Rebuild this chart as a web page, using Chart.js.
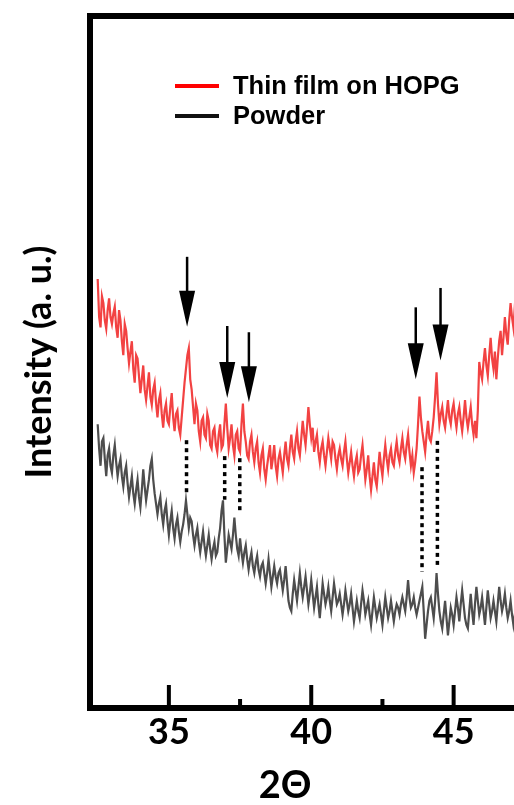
<!DOCTYPE html>
<html>
<head>
<meta charset="utf-8">
<script src="https://cdn.jsdelivr.net/npm/chart.js@4.4.0/dist/chart.umd.min.js"></script>
<style>
  html, body { margin: 0; padding: 0; background: #fff; overflow: hidden; }
</style>
</head>
<body>
<canvas id="xrd" width="616" height="805"></canvas>
<script>
// 2-theta positions (deg)
const twoTheta = [
  32.50, 32.55, 32.60, 32.65, 32.70, 32.75, 32.80, 32.85, 32.90, 32.95,
  33.00, 33.05, 33.10, 33.15, 33.20, 33.25, 33.30, 33.35, 33.40, 33.45,
  33.50, 33.55, 33.60, 33.65, 33.70, 33.75, 33.80, 33.85, 33.90, 33.95,
  34.00, 34.05, 34.10, 34.15, 34.20, 34.25, 34.30, 34.35, 34.40, 34.45,
  34.50, 34.55, 34.60, 34.65, 34.70, 34.75, 34.80, 34.85, 34.90, 34.95,
  35.00, 35.05, 35.10, 35.15, 35.20, 35.25, 35.30, 35.35, 35.40, 35.45,
  35.50, 35.55, 35.60, 35.65, 35.70, 35.75, 35.80, 35.85, 35.90, 35.95,
  36.00, 36.05, 36.10, 36.15, 36.20, 36.25, 36.30, 36.35, 36.40, 36.45,
  36.50, 36.55, 36.60, 36.65, 36.70, 36.75, 36.80, 36.85, 36.90, 36.95,
  37.00, 37.05, 37.10, 37.15, 37.20, 37.25, 37.30, 37.35, 37.40, 37.45,
  37.50, 37.55, 37.60, 37.65, 37.70, 37.75, 37.80, 37.85, 37.90, 37.95,
  38.00, 38.05, 38.10, 38.15, 38.20, 38.25, 38.30, 38.35, 38.40, 38.45,
  38.50, 38.55, 38.60, 38.65, 38.70, 38.75, 38.80, 38.85, 38.90, 38.95,
  39.00, 39.05, 39.10, 39.15, 39.20, 39.25, 39.30, 39.35, 39.40, 39.45,
  39.50, 39.55, 39.60, 39.65, 39.70, 39.75, 39.80, 39.85, 39.90, 39.95,
  40.00, 40.05, 40.10, 40.15, 40.20, 40.25, 40.30, 40.35, 40.40, 40.45,
  40.50, 40.55, 40.60, 40.65, 40.70, 40.75, 40.80, 40.85, 40.90, 40.95,
  41.00, 41.05, 41.10, 41.15, 41.20, 41.25, 41.30, 41.35, 41.40, 41.45,
  41.50, 41.55, 41.60, 41.65, 41.70, 41.75, 41.80, 41.85, 41.90, 41.95,
  42.00, 42.05, 42.10, 42.15, 42.20, 42.25, 42.30, 42.35, 42.40, 42.45,
  42.50, 42.55, 42.60, 42.65, 42.70, 42.75, 42.80, 42.85, 42.90, 42.95,
  43.00, 43.05, 43.10, 43.15, 43.20, 43.25, 43.30, 43.35, 43.40, 43.45,
  43.50, 43.55, 43.60, 43.65, 43.70, 43.75, 43.80, 43.85, 43.90, 43.95,
  44.00, 44.05, 44.10, 44.15, 44.20, 44.25, 44.30, 44.35, 44.40, 44.45,
  44.50, 44.55, 44.60, 44.65, 44.70, 44.75, 44.80, 44.85, 44.90, 44.95,
  45.00, 45.05, 45.10, 45.15, 45.20, 45.25, 45.30, 45.35, 45.40, 45.45,
  45.50, 45.55, 45.60, 45.65, 45.70, 45.75, 45.80, 45.85, 45.90, 45.95,
  46.00, 46.05, 46.10, 46.15, 46.20, 46.25, 46.30, 46.35, 46.40, 46.45,
  46.50, 46.55, 46.60, 46.65, 46.70, 46.75, 46.80, 46.85, 46.90, 46.95,
  47.00, 47.05, 47.10, 47.15, 47.20, 47.25, 47.30, 47.35, 47.40, 47.45
];

// intensity, arbitrary units (offset traces)
const thinFilm = [
  62.0, 56.5, 55.0, 59.5, 58.5, 56.0, 54.8, 57.5, 59.2, 56.5,
  55.5, 57.0, 58.0, 55.0, 53.5, 57.5, 56.0, 53.0, 51.0, 55.5,
  54.5, 52.0, 49.8, 51.5, 53.0, 49.0, 47.0, 51.0, 50.5, 48.0,
  45.5, 47.5, 49.5, 46.0, 44.5, 46.5, 48.5, 45.0, 43.8, 46.0,
  47.0, 44.0, 42.0, 44.5, 45.5, 42.5, 40.5, 43.0, 44.0, 41.5,
  41.0, 43.5, 45.5, 42.0, 40.0, 42.5, 43.0, 40.5, 39.5, 42.0,
  44.5, 47.0, 49.0, 51.0, 52.0, 47.5, 46.0, 43.5, 41.0, 44.0,
  43.0, 40.0, 38.5, 41.5, 42.0, 39.5, 39.0, 42.5, 41.5, 38.0,
  37.5, 40.0, 40.5, 38.0, 37.0, 39.5, 41.0, 37.5, 38.0, 41.0,
  44.0, 40.5, 37.5, 39.0, 41.0, 38.0, 36.5, 39.5, 40.0, 37.5,
  37.0, 41.0, 44.0, 40.0, 38.5, 36.5, 36.0, 38.5, 39.5, 37.0,
  35.5, 37.5, 38.5, 35.5, 34.0, 36.5, 37.5, 34.5, 33.0, 35.0,
  36.5, 38.0, 34.5, 36.0, 38.0, 35.0, 33.5, 36.0, 37.0, 35.5,
  34.0, 36.5, 38.5, 36.0, 35.0, 37.5, 39.5, 37.0, 36.0, 38.5,
  40.0, 37.5, 36.5, 39.0, 41.5, 39.5, 38.0, 40.5, 43.5, 41.0,
  39.0, 40.5, 37.0, 38.5, 39.5, 37.0, 35.5, 37.5, 38.5, 36.5,
  35.0, 37.0, 39.0, 37.5, 36.0, 38.5, 38.0, 36.0, 34.5, 36.5,
  37.5, 36.0, 35.0, 37.0, 38.5, 36.0, 34.0, 35.5, 37.0, 35.0,
  33.5, 35.5, 36.5, 34.0, 34.5, 36.5, 38.0, 35.5, 33.0, 34.5,
  36.5, 33.5, 31.5, 33.5, 35.5, 33.0, 32.0, 34.5, 37.0, 35.0,
  33.5, 36.0, 38.0, 36.0, 34.5, 36.5, 37.5, 35.5, 35.0, 37.0,
  38.5, 36.5, 35.5, 37.5, 39.0, 37.0, 36.0, 38.0, 39.5, 37.0,
  35.0, 36.5, 34.0, 35.5, 37.5, 41.0, 45.0, 42.0, 40.0, 38.5,
  37.0, 39.5, 41.5, 39.0, 38.5, 40.0, 42.0, 45.0, 48.5, 44.0,
  41.0, 42.5, 43.5, 41.5, 40.5, 42.5, 44.5, 42.0, 41.0, 43.0,
  44.0, 42.0, 40.5, 42.5, 43.5, 41.5, 40.0, 42.0, 44.5, 42.0,
  40.5, 42.0, 43.5, 41.0, 39.5, 41.5, 39.0, 43.0, 50.0, 48.5,
  47.5, 50.0, 52.0, 49.5, 48.0, 51.0, 53.5, 50.5, 49.0, 51.5,
  47.5, 50.5, 53.0, 54.5, 51.0, 53.5, 56.5, 54.0, 52.5, 56.0,
  58.5, 56.5, 55.0, 58.0, 61.0, 59.0, 57.0, 60.0, 62.0, 60.5
];

const powder = [
  41.0, 37.5, 35.0, 38.5, 39.0, 36.0, 33.5, 36.5, 37.5, 35.0,
  34.0, 36.5, 38.0, 35.5, 33.5, 35.0, 36.0, 33.5, 32.0, 34.0,
  35.0, 32.5, 30.5, 32.0, 33.5, 31.0, 29.5, 31.5, 33.0, 30.5,
  29.0, 31.5, 34.5, 32.0, 30.0, 31.5, 33.0, 35.0, 36.0, 33.0,
  31.0, 29.5, 28.0, 29.5, 30.5, 28.0, 26.5, 28.5, 29.5, 27.0,
  25.0, 27.0, 28.5, 26.0, 24.5, 26.5, 27.5, 25.5, 24.0, 25.5,
  26.5, 28.0, 30.0, 28.0, 26.0, 27.5, 27.0, 25.0, 23.5, 25.0,
  26.0, 24.0, 22.5, 24.0, 25.5, 23.5, 22.0, 23.5, 25.0, 23.0,
  21.5, 23.0, 24.0, 22.0, 22.5, 24.5, 26.0, 28.5, 30.0, 25.0,
  21.0, 23.0, 25.0, 24.0, 23.0, 25.0, 27.5, 25.0, 23.0, 22.0,
  24.5, 22.5, 21.0, 22.5, 23.5, 21.5, 20.0, 21.5, 22.5, 20.5,
  19.5, 21.0, 22.0, 20.0, 19.0, 20.5, 21.0, 19.5, 18.0, 19.5,
  21.5, 19.5, 17.5, 19.0, 20.5, 19.0, 18.0, 19.5, 20.0, 18.5,
  17.0, 18.5, 20.5, 18.0, 15.5, 14.5, 14.0, 16.5, 18.5, 17.0,
  15.5, 17.5, 19.5, 17.5, 16.0, 17.5, 19.0, 17.0, 15.0, 16.5,
  18.5, 16.5, 14.5, 16.0, 17.5, 15.0, 13.0, 15.5, 18.0, 16.5,
  15.0, 16.0, 17.5, 15.5, 14.0, 16.0, 18.0, 16.5, 15.0, 15.5,
  16.5, 15.0, 13.5, 15.0, 17.0, 15.5, 14.0, 15.0, 16.5, 14.5,
  12.5, 14.0, 15.5, 14.0, 13.0, 15.0, 17.0, 15.5, 13.5, 14.5,
  15.5, 13.5, 12.0, 14.0, 16.0, 14.5, 13.0, 14.0, 15.0, 13.5,
  12.0, 14.0, 16.0, 14.5, 13.0, 14.0, 15.5, 14.0, 12.5, 14.0,
  15.0, 14.5, 13.5, 15.0, 16.0, 15.0, 14.0, 16.0, 18.5, 16.0,
  14.5, 15.0, 16.0, 14.5, 13.5, 14.5, 15.5, 16.5, 17.5, 14.0,
  10.0, 12.0, 14.0, 15.5, 16.0, 14.5, 13.0, 15.5, 19.5, 16.5,
  14.0, 12.5, 11.5, 13.5, 15.5, 13.0, 10.5, 12.5, 14.5, 13.5,
  12.0, 14.0, 16.0, 14.5, 12.5, 15.0, 17.0, 15.0, 13.0, 12.0,
  11.5, 14.0, 16.5, 14.0, 12.0, 15.0, 17.5, 15.5, 13.5, 14.5,
  16.0, 14.0, 12.0, 14.5, 17.0, 15.0, 13.0, 14.0, 15.5, 14.0,
  12.5, 15.0, 17.5, 15.5, 14.0, 15.0, 16.5, 14.5, 13.0, 14.0,
  15.5, 13.5, 12.0, 13.5, 15.0, 14.5, 13.5, 15.0, 16.0, 14.5
];

// peak markers
const arrowX   = [35.64, 37.05, 37.81, 43.67, 44.54];
const arrowTop = [65.2, 55.2, 54.3, 57.9, 60.7];
const arrowTip = [55.1, 44.8, 44.2, 47.5, 50.2];

// dotted guides film -> powder
const guideX      = [35.62, 36.96, 37.49, 43.89, 44.43];
const guideTop    = [38.7, 36.4, 36.1, 34.8, 38.6];
const guideBottom = [31.1, 30.1, 28.3, 19.7, 20.5];

const xTicks = [35, 37.5, 40, 42.5, 45, 47.5];
const seriesNames = ["Thin film on HOPG", "Powder"];
const legendColors = ["#ff0000", "#111111"];

const guideSets = guideX.map((gx, i) => ({
  data: [{ x: gx, y: guideTop[i] }, { x: gx, y: guideBottom[i] }],
  borderColor: "#000",
  borderWidth: 3.5,
  borderDash: [4, 4],
  pointRadius: 0,
}));

const decor = {
  id: "decor",
  afterDatasetsDraw(chart) {
    const { ctx, chartArea: a, scales: { x, y } } = chart;
    ctx.save();
    ctx.fillStyle = "#000";
    ctx.strokeStyle = "#000";

    // arrows
    arrowX.forEach((t, i) => {
      const px = x.getPixelForValue(t);
      const top = y.getPixelForValue(arrowTop[i]);
      const tip = y.getPixelForValue(arrowTip[i]);
      ctx.lineWidth = 2.5;
      ctx.beginPath();
      ctx.moveTo(px, top);
      ctx.lineTo(px, tip - 32);
      ctx.stroke();
      ctx.beginPath();
      ctx.moveTo(px - 8, tip - 36);
      ctx.lineTo(px + 8, tip - 36);
      ctx.lineTo(px, tip);
      ctx.closePath();
      ctx.fill();
    });

    // frame
    ctx.lineWidth = 6;
    ctx.strokeRect(a.left, a.top, a.right - a.left, a.bottom - a.top);

    // inward ticks
    ctx.lineWidth = 4;
    x.ticks.forEach(tk => {
      const px = x.getPixelForValue(tk.value);
      const len = tk.value % 5 === 0 ? 23 : 9;
      ctx.beginPath();
      ctx.moveTo(px, a.bottom);
      ctx.lineTo(px, a.bottom - len);
      ctx.stroke();
    });

    // legend
    ctx.font = 'bold 25.5px "Liberation Sans", Arial, sans-serif';
    ctx.textBaseline = "middle";
    ctx.textAlign = "left";
    seriesNames.forEach((name, i) => {
      const ly = 86 + i * 30;
      ctx.strokeStyle = legendColors[i];
      ctx.lineWidth = 4;
      ctx.beginPath();
      ctx.moveTo(175, ly);
      ctx.lineTo(219, ly);
      ctx.stroke();
      ctx.fillStyle = "#000";
      ctx.fillText(name, 233, ly + 1);
    });

    // x title
    ctx.font = "bold 38px Lato, sans-serif";
    ctx.textAlign = "center";
    ctx.fillText("2\u0398", 285, 786);
    ctx.restore();
  }
};

new Chart(document.getElementById("xrd"), {
  type: "line",
  data: {
    datasets: [
      {
        label: seriesNames[0],
        data: twoTheta.map((t, i) => ({ x: t, y: thinFilm[i] })),
        borderColor: "#f24242",
        borderWidth: 2.2,
        pointRadius: 0,
        tension: 0,
      },
      {
        label: seriesNames[1],
        data: twoTheta.map((t, i) => ({ x: t, y: powder[i] })),
        borderColor: "#4d4d4d",
        borderWidth: 2.2,
        pointRadius: 0,
        tension: 0,
      },
      ...guideSets,
    ],
  },
  options: {
    responsive: false,
    animation: false,
    layout: { padding: { top: 16, right: 20, left: 0, bottom: 0 } },
    plugins: {
      legend: { display: false },
      tooltip: { enabled: false },
    },
    scales: {
      x: {
        type: "linear",
        min: 32.23,
        max: 50,
        afterBuildTicks: (scale) => { scale.ticks = xTicks.map(v => ({ value: v })); },
        afterFit: (scale) => { scale.height = 97; },
        grid: { display: false, drawTicks: false },
        border: { display: false },
        ticks: {
          autoSkip: false,
          maxRotation: 0,
          padding: 3,
          color: "#000",
          font: { family: "Lato", size: 36, weight: "bold" },
          callback: (v) => (v % 5 === 0 ? v : ""),
        },
      },
      y: {
        min: 0,
        max: 100,
        afterFit: (scale) => { scale.width = 90; },
        grid: { display: false, drawTicks: false },
        border: { display: false },
        ticks: { display: false },
        title: {
          display: true,
          text: "Intensity (a. u.)",
          color: "#000",
          font: { family: "Lato", size: 36, weight: "bold" },
          padding: { top: 18, bottom: 0 },
        },
      },
    },
  },
  plugins: [decor],
});
</script>
</body>
</html>
